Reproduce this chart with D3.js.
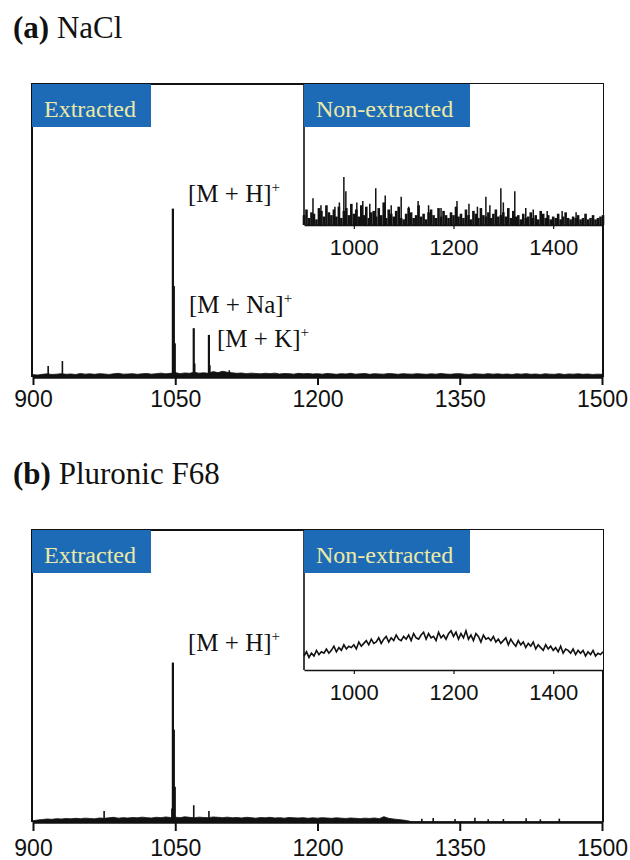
<!DOCTYPE html>
<html>
<head>
<meta charset="utf-8">
<script src="https://cdn.jsdelivr.net/npm/d3@7"></script>
<style>
  body { margin: 0; background: #fff; }
  svg { display: block; }
</style>
</head>
<body>
<div id="wrapper"></div>
<script>
// m/z grid for the sampled traces (one value every 5 units)
const mzStart = 900
const mzStep = 5
const mainTicks = [900, 1050, 1200, 1350, 1500]
const insetTicks = [1000, 1200, 1400]

// (a) NaCl
const naclTitle = ["(a)", "NaCl"]
const naclNoise = [
  1.4,1.2,1.6,1.9,1.5,1.7,2.0,1.6,1.8,1.5,2.1,1.7,1.9,1.6,2.0,1.8,1.5,1.9,2.2,1.7,
  1.8,2.0,1.6,1.9,2.1,1.7,2.0,2.3,1.9,2.2,2.6,2.0,2.4,2.2,2.8,2.3,2.5,2.2,3.2,2.6,
  3.4,2.8,2.5,2.2,2.4,2.0,2.3,2.1,1.9,2.2,2.0,2.3,1.8,2.1,2.0,1.7,2.2,1.9,2.1,1.8,
  2.0,1.7,2.1,1.9,1.6,2.0,1.8,2.2,1.7,1.9,2.1,1.6,2.0,1.8,1.7,2.1,1.9,1.6,2.0,1.8,
  1.7,2.0,1.8,1.6,1.9,1.7,2.1,1.8,1.6,1.9,2.0,1.7,1.5,1.9,1.8,1.6,2.0,1.7,1.9,1.6,
  1.8,1.5,1.9,1.7,2.0,1.6,1.8,1.5,1.9,1.7,1.6,2.0,1.5,1.8,1.7,1.9,1.6,1.8,1.5,1.7,1.6
]
const naclPeakMz = [916, 931, 1047.5, 1048.5, 1049.5, 1069.5, 1070.5, 1085.5, 1086.5, 1107]
const naclPeakInt = [6.5, 9.5, 100, 54, 20, 29, 8, 25, 7, 4]
const naclLabels = ["[M + H]", "[M + Na]", "[M + K]"]
const naclInsetNoise = [
  7,11,5,9,8,4,12,10,6,14,9,7,11,6,13,5,10,12,7,15,
  8,11,6,14,7,13,5,9,10,6,12,7,16,5,11,8,6,10,13,5,
  4,8,12,9,5,7,14,6,8,4,9,11,7,5,12,6,10,7,5,9,
  7,13,6,8,5,11,7,4,10,8,5,12,7,6,9,5,8,11,6,7,
  9,6,12,5,10,6,7,4,8,5,6,9,5,7,4,10,8,5,7,4,
  6,5,8,4,6,9,5,4,6,5,7,4,5,8,4,5,7,4,5,6,7
]
const naclInsetPeakMz = [918, 934, 962, 971, 980, 984, 1006, 1018, 1032, 1044, 1063, 1075, 1095, 1110, 1129, 1150, 1175, 1207, 1231, 1248, 1265, 1273, 1295, 1300, 1323, 1345, 1360, 1388, 1418, 1446]
const naclInsetPeakInt = [19, 14, 13, 16, 34, 24, 16, 17, 15, 26, 21, 14, 20, 13, 17, 14, 12, 17, 15, 13, 20, 14, 26, 16, 24, 12, 11, 10, 10, 9]

// (b) Pluronic F68
const f68Title = ["(b)", "Pluronic F68"]
const f68Noise = [
  0.8,1.2,1.5,1.8,1.6,2.0,1.8,2.1,1.9,2.2,2.0,2.3,2.1,1.9,2.4,2.2,2.5,2.8,2.3,2.6,
  2.4,2.7,2.5,2.9,2.6,2.4,2.8,2.6,3.0,2.7,2.9,2.6,3.1,2.8,2.5,2.9,2.7,2.6,3.0,2.8,
  2.6,2.9,2.5,2.7,2.4,2.8,2.6,2.3,2.7,2.5,2.8,2.4,2.6,2.3,2.7,2.5,2.4,2.6,2.2,2.5,
  2.3,2.6,2.4,2.2,2.5,2.3,2.1,2.4,2.2,2.0,2.3,2.1,2.4,2.0,3.2,2.2,1.8,1.5,1.2,0.8,
  0,0,0,0,0,0,0,0,0,0,0,0,0,0,0,0,0,0,0,0,
  0,0,0,0,0,0,0,0,0,0,0,0,0,0,0,0,0,0,0,0,0
]
const f68PeakMz = [975, 1046.5, 1047.5, 1048.5, 1049.5, 1069.5, 1085.5, 1310, 1322, 1345, 1366, 1380, 1396, 1420, 1435, 1455]
const f68PeakInt = [6.5, 8, 95, 55, 21, 10, 6.5, 2, 2.4, 1.8, 2.6, 1.6, 1.8, 2.2, 1.6, 2.0]
const f68Labels = ["[M + H]"]
const f68InsetTrace = [
  10,13,9,12,10,14,11,13,12,15,12,14,17,13,16,14,18,15,17,16,
  18,15,20,17,19,21,18,22,19,20,23,19,22,24,20,23,21,25,22,21,
  24,22,25,21,26,23,22,25,27,22,26,23,24,21,27,23,25,22,26,28,
  24,27,22,26,23,28,22,25,21,26,24,20,25,22,23,21,24,20,22,19,
  21,23,18,22,19,17,21,18,20,16,19,17,20,15,18,16,14,18,15,17,
  14,16,13,17,12,15,14,12,15,11,14,12,14,10,13,11,14,10,12,11,13
]

const serif = "'Liberation Serif', 'Times New Roman', serif"
const sans = "'Liberation Sans', Arial, sans-serif"
const boxBlue = "#1d6bb6"
const boxText = "#ece9a6"

const width = 630
const height = 860

const svg = d3.select("#wrapper")
  .append("svg")
  .attr("width", width)
  .attr("height", height)

const frame = { left: 32, right: 603 }
const inset = { left: 304, right: 603 }

const xScale = d3.scaleLinear()
  .domain([900, 1500])
  .range([33, 602])
const xInset = d3.scaleLinear()
  .domain([900, 1500])
  .range([inset.left, inset.right])

const mzOf = (d, i) => mzStart + i * mzStep

function drawPanel(p) {
  const g = svg.append("g")

  // title
  const title = g.append("text")
    .attr("x", 13)
    .attr("y", p.top - 46)
    .style("font-family", serif)
    .style("font-size", "31px")
    .attr("fill", "#111")
  title.append("tspan").attr("font-weight", "bold").text(p.title[0])
  title.append("tspan").text(" " + p.title[1])

  const yScale = d3.scaleLinear()
    .domain([0, 174])
    .range([p.axisY, p.top])

  // baseline noise of the extracted spectrum
  g.append("path")
    .attr("d", d3.area()
      .x((d, i) => xScale(mzOf(d, i)))
      .y0(yScale(0))
      .y1(d => yScale(d))(p.noise))
    .attr("fill", "#111")
    .attr("stroke", "#111")
    .attr("stroke-width", 0.8)

  // peaks as sticks
  g.selectAll(".peak")
    .data(p.peakMz)
    .join("line")
    .attr("x1", d => xScale(d))
    .attr("x2", d => xScale(d))
    .attr("y1", yScale(0))
    .attr("y2", (d, i) => yScale(p.peakInt[i]))
    .attr("stroke", "#111")
    .attr("stroke-width", (d, i) => p.peakInt[i] > 15 ? 2.2 : 1.6)

  // frame: left, top, right
  g.append("path")
    .attr("d", `M${frame.left},${p.axisY}V${p.top}H${frame.right}V${p.axisY}`)
    .attr("fill", "none")
    .attr("stroke", "#111")
    .attr("stroke-width", 2)

  // main x axis
  const xAxis = g.append("g")
    .attr("transform", `translate(0, ${p.axisY})`)
    .call(d3.axisBottom(xScale).tickValues(mainTicks).tickSize(p.tickLen).tickSizeOuter(0).tickFormat(d3.format("d")))
  xAxis.select(".domain").attr("stroke", "#111").attr("stroke-width", 2.4)
  xAxis.selectAll(".tick line").attr("stroke", "#111").attr("stroke-width", 2)
  xAxis.selectAll(".tick text")
    .attr("dy", null)
    .attr("y", p.labelDy)
    .attr("fill", "#111")
    .style("font-family", sans)
    .style("font-size", "23px")

  // "Extracted" tag
  g.append("rect")
    .attr("x", frame.left)
    .attr("y", p.top)
    .attr("width", 119)
    .attr("height", 43)
    .attr("fill", boxBlue)
  g.append("text")
    .attr("x", 44)
    .attr("y", p.top + 33)
    .style("font-family", serif)
    .style("font-size", "24px")
    .attr("fill", boxText)
    .text("Extracted")

  // ion labels
  p.labels.forEach((t, i) => {
    const lbl = g.append("text")
      .attr("x", p.labelPos[i][0])
      .attr("y", p.labelPos[i][1])
      .style("font-family", serif)
      .style("font-size", "25px")
      .attr("fill", "#111")
    lbl.append("tspan").text(t)
    lbl.append("tspan").attr("dy", -10).style("font-size", "15px").text("+")
  })

  // inset: non-extracted
  const iy = d3.scaleLinear()
    .domain([0, 100])
    .range([p.insetAxisY, p.top])

  g.append("rect")
    .attr("x", inset.left)
    .attr("y", p.top)
    .attr("width", inset.right - inset.left)
    .attr("height", p.insetAxisY - p.top)
    .attr("fill", "#fff")

  if (p.insetNoise) {
    g.selectAll(".inoise")
      .data(p.insetNoise)
      .join("line")
      .attr("x1", (d, i) => xInset(mzOf(d, i)))
      .attr("x2", (d, i) => xInset(mzOf(d, i)))
      .attr("y1", iy(0))
      .attr("y2", d => iy(d))
      .attr("stroke", "#111")
      .attr("stroke-width", 2.6)
    g.selectAll(".ipeak")
      .data(p.insetPeakMz)
      .join("line")
      .attr("x1", d => xInset(d))
      .attr("x2", d => xInset(d))
      .attr("y1", iy(0))
      .attr("y2", (d, i) => iy(p.insetPeakInt[i]))
      .attr("stroke", "#111")
      .attr("stroke-width", 1.5)
  }
  if (p.insetTrace) {
    g.append("path")
      .attr("d", d3.line()
        .x((d, i) => xInset(mzOf(d, i)))
        .y(d => iy(d))(p.insetTrace))
      .attr("fill", "none")
      .attr("stroke", "#111")
      .attr("stroke-width", 1.6)
  }

  g.append("path")
    .attr("d", `M${inset.left},${p.top}V${p.insetAxisY}`)
    .attr("stroke", "#111")
    .attr("stroke-width", 1.6)

  const ixAxis = g.append("g")
    .attr("transform", `translate(0, ${p.insetAxisY})`)
    .call(d3.axisBottom(xInset).tickValues(insetTicks).tickSize(4).tickSizeOuter(0).tickFormat(d3.format("d")))
  ixAxis.select(".domain").attr("stroke", "#111").attr("stroke-width", 1.6)
  ixAxis.selectAll(".tick line").attr("stroke", "#111").attr("stroke-width", 1.2)
  ixAxis.selectAll(".tick text")
    .attr("dy", null)
    .attr("y", 30)
    .attr("fill", "#111")
    .style("font-family", sans)
    .style("font-size", "22px")

  g.append("rect")
    .attr("x", inset.left)
    .attr("y", p.top)
    .attr("width", 166)
    .attr("height", 43)
    .attr("fill", boxBlue)
  g.append("text")
    .attr("x", 316)
    .attr("y", p.top + 33)
    .style("font-family", serif)
    .style("font-size", "24px")
    .attr("fill", boxText)
    .text("Non-extracted")
}

drawPanel({
  title: naclTitle,
  top: 84,
  axisY: 377,
  tickLen: 8,
  labelDy: 30,
  noise: naclNoise,
  peakMz: naclPeakMz,
  peakInt: naclPeakInt,
  labels: naclLabels,
  labelPos: [[188, 202], [189, 313], [217, 347]],
  insetAxisY: 225,
  insetNoise: naclInsetNoise,
  insetPeakMz: naclInsetPeakMz,
  insetPeakInt: naclInsetPeakInt,
})

drawPanel({
  title: f68Title,
  top: 530,
  axisY: 822,
  tickLen: 9,
  labelDy: 34,
  noise: f68Noise,
  peakMz: f68PeakMz,
  peakInt: f68PeakInt,
  labels: f68Labels,
  labelPos: [[188, 651]],
  insetAxisY: 670,
  insetTrace: f68InsetTrace,
})
</script>
</body>
</html>
